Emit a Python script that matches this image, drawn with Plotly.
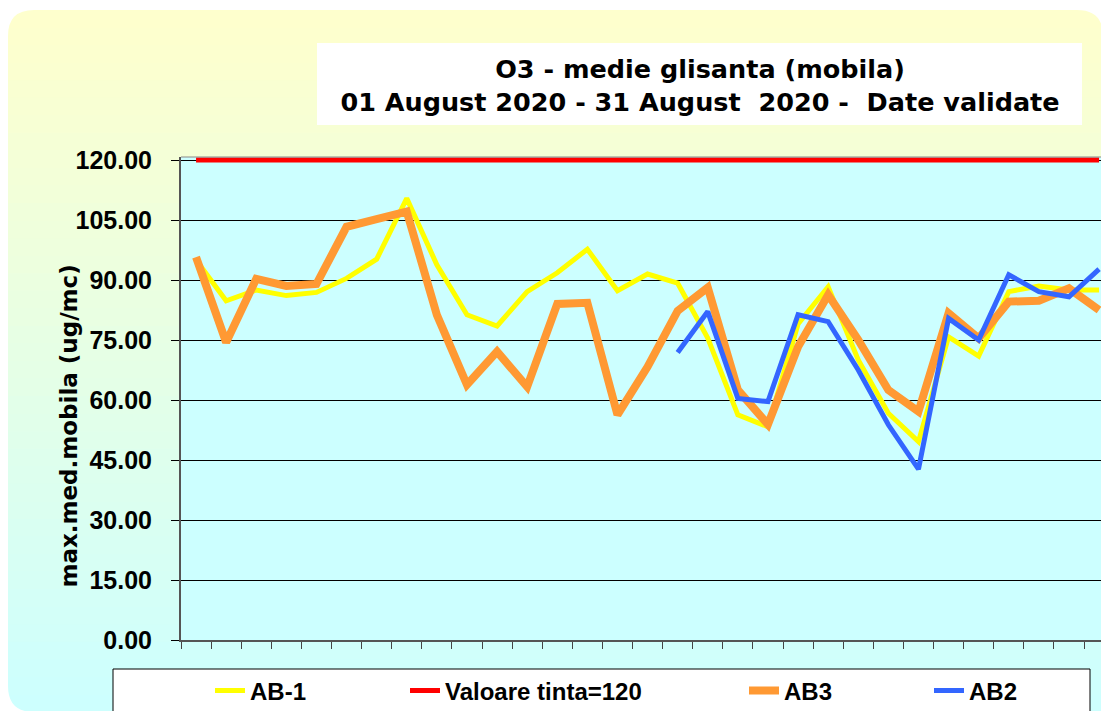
import plotly.graph_objects as go

# --- data ---
days = list(range(1, 32))  # 01..31 August 2020

ab1 = [95.0, 84.8, 87.5, 86.1, 86.9, 90.4, 95.2, 110.4, 93.8, 81.3,
       78.5, 87.1, 91.8, 97.7, 87.3, 91.5, 89.2, 75.5, 56.3, 53.3,
       79.0, 88.3, 70.0, 56.7, 49.6, 75.8, 71.0, 87.1, 88.5, 87.5, 87.5]

valoare_tinta = [120, 120, 120, 120, 120, 120, 120, 120, 120, 120,
                 120, 120, 120, 120, 120, 120, 120, 120, 120, 120,
                 120, 120, 120, 120, 120, 120, 120, 120, 120, 120, 120]

ab3 = [95.7, 74.4, 90.3, 88.5, 89.0, 103.3, 105.2, 107.1, 81.3, 63.8,
       72.1, 63.3, 84.0, 84.3, 56.3, 68.3, 82.3, 88.1, 62.5, 53.9,
       73.3, 86.3, 75.0, 62.5, 57.1, 81.7, 75.4, 84.6, 84.8, 87.9, 82.5]

ab2 = [None, None, None, None, None, None, None, None, None, None,
       None, None, None, None, None, None, 71.9, 82.1, 60.4, 59.6,
       81.3, 79.6, 67.5, 53.8, 42.7, 80.4, 75.0, 91.3, 87.1, 85.8, 92.7]

y_ticks = [0, 15, 30, 45, 60, 75, 90, 105, 120]

# --- page geometry (pixels); the page body adds an 8px offset ---
OFF = 8
W, H = 1109 - OFF, 711 - OFF
ML, MR, MT, MB = 181 - OFF, 0, 157 - OFF, 71
PW, PH = W - ML - MR, H - MT - MB


def px(x):
    # screen x (reference coords) -> paper x
    return (x - OFF - ML) / PW


def py(y):
    # screen y (reference coords) -> paper y
    return (H - MB - (y - OFF)) / PH


ARIAL = "Liberation Sans, Arial, sans-serif"

series = [
    ("AB-1", ab1, "#FFFF00", 5, "legend", 210),
    ("Valoare tinta=120", valoare_tinta, "#FF0000", 5, "legend2", 405),
    ("AB3", ab3, "#FF9933", 8, "legend3", 744),
    ("AB2", ab2, "#3366FF", 5, "legend4", 929),
]

fig = go.Figure()
for name, vals, color, width, leg, _ in series:
    fig.add_trace(go.Scatter(
        x=days, y=vals, name=name, mode="lines",
        line=dict(color=color, width=width),
        connectgaps=False, legend=leg, showlegend=True,
    ))

# background panel: vertical gradient yellow -> cyan with rounded corners
shapes = []
top, bot, left, right = 10, 712, 8, 1103
n_bands = 40
c0, c1 = (255, 255, 204), (204, 255, 255)
for i in range(n_bands):
    y0 = top + (bot - top) * i / n_bands
    y1 = top + (bot - top) * (i + 1) / n_bands + 1
    t = (i + 0.5) / n_bands
    col = "rgb(%d,%d,%d)" % tuple(round(a + (b - a) * t) for a, b in zip(c0, c1))
    shapes.append(dict(type="rect", xref="paper", yref="paper", layer="below",
                       x0=px(left), x1=px(right), y0=py(y0), y1=py(y1),
                       fillcolor=col, line=dict(width=0)))

r = 26


def corner(cx, cy, dx, dy):
    # white mask outside a rounded corner at (cx, cy)
    return ("M %f,%f L %f,%f L %f,%f Q %f,%f %f,%f Z" % (
        px(cx), py(cy + dy * r), px(cx), py(cy), px(cx + dx * r), py(cy),
        px(cx), py(cy), px(cx), py(cy + dy * r)))


for cx, cy, dx, dy in [(left, top, 1, 1), (right, top, -1, 1), (left, bot, 1, -1)]:
    shapes.append(dict(type="path", xref="paper", yref="paper", layer="below",
                       path=corner(cx, cy, dx, dy), fillcolor="white",
                       line=dict(width=0)))

# plot area background
shapes.append(dict(type="rect", xref="paper", yref="paper", layer="below",
                   x0=0, x1=1, y0=0, y1=1,
                   fillcolor="#CCFFFF", line=dict(width=0)))
# title box
shapes.append(dict(type="rect", xref="paper", yref="paper", layer="below",
                   x0=px(317), x1=px(1082), y0=py(43), y1=py(125),
                   fillcolor="white", line=dict(width=0)))
# legend box
shapes.append(dict(type="rect", xref="paper", yref="paper", layer="below",
                   x0=px(113), x1=px(1090), y0=py(669), y1=py(715),
                   fillcolor="white", line=dict(color="black", width=1)))
# plot top border
shapes.append(dict(type="line", xref="paper", yref="paper", layer="above",
                   x0=0, x1=1, y0=1, y1=1, line=dict(color="#888888", width=1)))

legends = {}
for name, _, _, _, leg, lx in series:
    legends[leg] = dict(
        x=px(lx), y=py(691), xanchor="left", yanchor="middle",
        orientation="h", bgcolor="rgba(0,0,0,0)", borderwidth=0,
        font=dict(family=ARIAL, size=24, color="black", weight="bold"),
    )

fig.update_layout(
    width=W, height=H,
    margin=dict(l=ML, r=MR, t=MT, b=MB, autoexpand=False),
    paper_bgcolor="white",
    plot_bgcolor="rgba(0,0,0,0)",
    showlegend=True,
    title=dict(
        text="O3 - medie glisanta (mobila)<br>01 August 2020 - 31 August\u00a0 2020 -\u00a0 Date validate",
        x=(700 - OFF) / W, xref="container", xanchor="center",
        y=1 - (78 - OFF) / H, yref="container", yanchor="middle",
        font=dict(family="DejaVu Sans", size=25.5, color="black", weight="bold"),
    ),
    xaxis=dict(
        range=[0.5, 31.33],
        tickvals=[d - 0.5 for d in days] + [31.5],
        showticklabels=False, ticks="outside", ticklen=7,
        tickcolor="#444444", tickwidth=1,
        showgrid=False, zeroline=False,
        showline=True, linecolor="#555555", linewidth=2,
    ),
    yaxis=dict(
        range=[0, 120.75],
        tickvals=y_ticks, tickformat=".2f",
        ticks="outside", ticklen=8, tickcolor="black", tickwidth=1,
        ticklabelstandoff=14,
        tickfont=dict(family=ARIAL, size=25, color="black", weight="bold"),
        showgrid=True, gridcolor="black", gridwidth=1,
        zeroline=False,
        showline=True, linecolor="#555555", linewidth=2,
    ),
    shapes=shapes,
    annotations=[dict(
        text="max.med.mobila (ug/mc)", textangle=-90,
        xref="paper", yref="paper", x=px(68.5), y=py(426),
        xanchor="center", yanchor="middle", showarrow=False,
        font=dict(family="DejaVu Sans", size=23, color="black", weight="bold"),
    )],
    **legends,
)

fig.write_html("out.html")
